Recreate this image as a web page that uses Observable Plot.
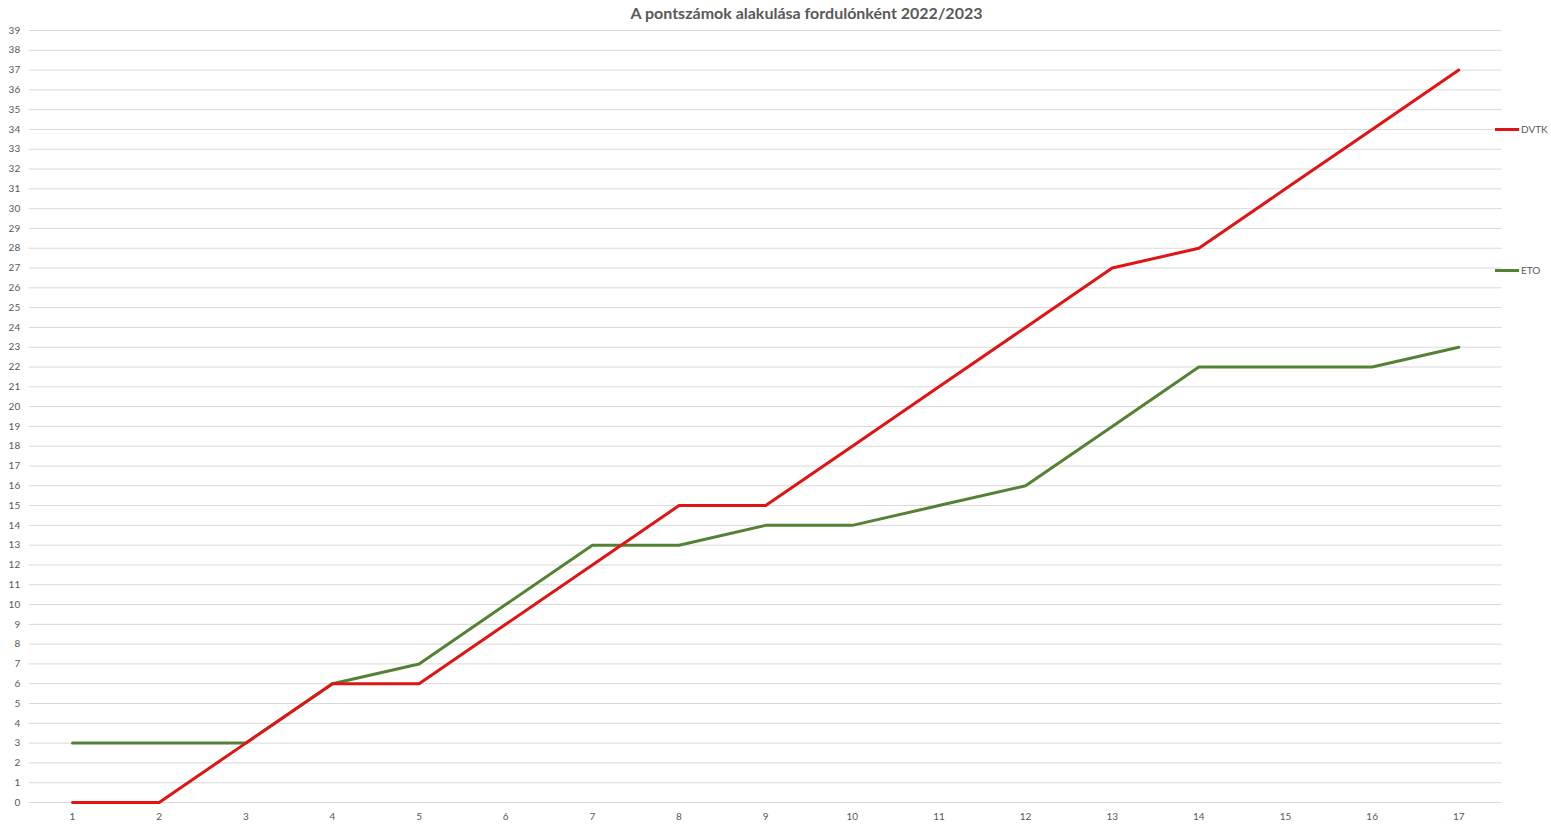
<!DOCTYPE html>
<html>
<head>
<meta charset="utf-8">
<script src="https://cdn.jsdelivr.net/npm/d3@7"></script>
<script src="https://cdn.jsdelivr.net/npm/@observablehq/plot@0.6"></script>
<style>
  html, body { margin: 0; padding: 0; background: #fff; }
  #wrap { position: relative; width: 1551px; height: 825px; font-family: Lato, "Open Sans", sans-serif; }
  #title { position: absolute; left: 0; top: 3px; width: 1551px; text-align: center; padding-left: 62px; box-sizing: border-box;
           font-weight: bold; font-size: 16px; color: #595959; }
  .leg { position: absolute; left: 1495px; font-size: 10px; color: #595959; display: flex; align-items: center; }
  .leg span.sw { display: inline-block; width: 24px; height: 3px; margin-right: 2px; }
  #chart { position: absolute; left: 0; top: 0; }
</style>
</head>
<body>
<div id="wrap">
  <div id="chart"></div>
  <div id="title">A pontszámok alakulása fordulónként 2022/2023</div>
  <div id="legend"></div>
</div>
<script>
const rounds = [1,2,3,4,5,6,7,8,9,10,11,12,13,14,15,16,17];
const dvtk = [0,0,3,6,6,9,12,15,15,18,21,24,27,28,31,34,37];
const eto  = [3,3,3,6,7,10,13,13,14,14,15,16,19,22,22,22,23];
const seriesNames = ["DVTK", "ETO"];
const seriesColors = ["#e01414", "#548235"];
const yTicks = d3.range(0, 40);

const data = [];
rounds.forEach((r, i) => {
  data.push({round: r, points: dvtk[i], team: "DVTK"});
  data.push({round: r, points: eto[i], team: "ETO"});
});

const chart = Plot.plot({
  width: 1551,
  height: 825,
  marginTop: 30,
  marginBottom: 23,
  marginLeft: 28.7,
  marginRight: 49.4,
  style: {fontFamily: "Lato, 'Open Sans', sans-serif", fontSize: "10px", color: "#595959", background: "#fff"},
  x: {domain: [0.5, 17.5], ticks: rounds, tickFormat: d => String(d), tickSize: 0, tickPadding: 10, label: null},
  y: {domain: [0, 39], ticks: yTicks, tickFormat: d => String(d), tickSize: 0, tickPadding: 9, label: null},
  color: {domain: seriesNames, range: seriesColors},
  marks: [
    Plot.gridY(yTicks, {stroke: "#d9d9d9", strokeOpacity: 1, strokeWidth: 1}),
    Plot.axisY({ticks: yTicks, tickSize: 0, tickPadding: 9, tickFormat: d => String(d), fill: "#595959", label: null}),
    Plot.axisX({ticks: rounds, tickSize: 0, tickPadding: 10, tickFormat: d => String(d), fill: "#595959", label: null}),
    Plot.line(data.filter(d => d.team === "ETO"), {x: "round", y: "points", stroke: "team", strokeWidth: 3, strokeLinejoin: "round", strokeLinecap: "round"}),
    Plot.line(data.filter(d => d.team === "DVTK"), {x: "round", y: "points", stroke: "team", strokeWidth: 3, strokeLinejoin: "round", strokeLinecap: "round"})
  ]
});
document.getElementById("chart").appendChild(chart);

const legTops = [123, 264];
const legend = document.getElementById("legend");
seriesNames.forEach((n, i) => {
  const d = document.createElement("div");
  d.className = "leg";
  d.style.top = legTops[i] + "px";
  d.innerHTML = `<span class="sw" style="background:${seriesColors[i]}"></span>${n}`;
  legend.appendChild(d);
});
</script>
</body>
</html>
